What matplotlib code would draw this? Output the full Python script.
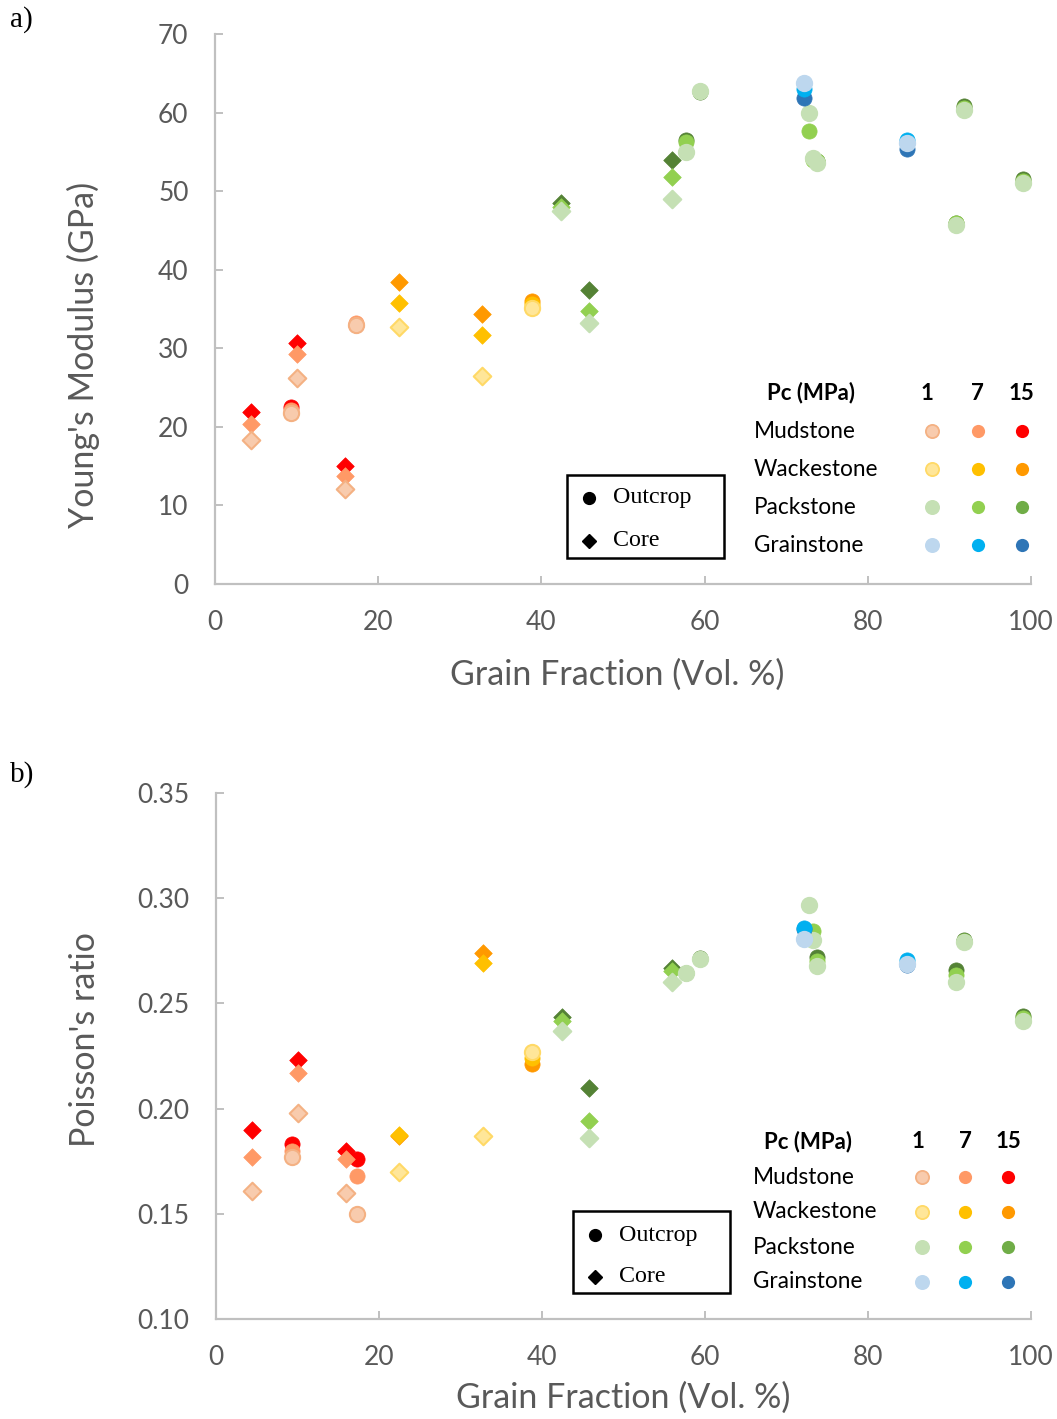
import numpy as np
import matplotlib
matplotlib.use("Agg")
import matplotlib.pyplot as plt
from matplotlib.lines import Line2D
from matplotlib.patches import Rectangle

nan = np.nan

# ---- Mudstone -------------------------------------------------------------
mud_core_x = [4.4, 10.0, 15.9]
mud_core_E1 = [18.3, 26.2, 12.1]
mud_core_E7 = [20.4, 29.3, 13.7]
mud_core_E15 = [21.9, 30.7, 15.0]
mud_core_v1 = [0.161, 0.198, 0.160]
mud_core_v7 = [0.177, 0.217, 0.176]
mud_core_v15 = [0.190, 0.223, 0.180]

mud_out_x = [9.3, 17.3]
mud_out_E1 = [21.8, 33.0]
mud_out_E7 = [22.1, 33.2]
mud_out_E15 = [22.5, 33.0]
mud_out_v1 = [0.177, 0.150]
mud_out_v7 = [0.180, 0.168]
mud_out_v15 = [0.183, 0.176]

# ---- Wackestone -----------------------------------------------------------
wack_core_x = [22.5, 32.7]
wack_core_E1 = [32.7, 26.5]
wack_core_E7 = [35.8, 31.7]
wack_core_E15 = [38.4, 34.4]
wack_core_v1 = [0.170, 0.187]
wack_core_v7 = [0.1875, 0.269]
wack_core_v15 = [0.1868, 0.274]

wack_out_x = [38.8]
wack_out_E1 = [35.1]
wack_out_E7 = [35.6]
wack_out_E15 = [36.0]
wack_out_v1 = [0.227]
wack_out_v7 = [0.224]
wack_out_v15 = [0.221]

# ---- Packstone ------------------------------------------------------------
pack_core_x = [42.4, 45.8, 56.0]
pack_core_E1 = [47.5, 33.2, 49.0]
pack_core_E7 = [48.0, 34.7, 51.8]
pack_core_E15 = [48.5, 37.4, 54.0]
pack_core_v1 = [0.237, 0.186, 0.260]
pack_core_v7 = [0.2416, 0.194, 0.2654]
pack_core_v15 = [0.2435, 0.2096, 0.2668]

pack_out_x = [57.7, 59.4, 72.8, 73.3, 73.8, 90.8, 91.8, 99.0]
pack_out_E1 = [55.0, 62.8, 60.0, 54.2, 53.6, 45.7, 60.3, 51.0]
pack_out_E7 = [56.3, 62.7, 57.7, 54.0, 53.8, 45.9, 60.6, 51.3]
pack_out_E15 = [56.5, 62.6, nan, nan, 53.9, 46.0, 60.8, 51.6]
pack_out_v1 = [0.2644, 0.2710, 0.297, 0.280, 0.268, 0.260, 0.2792, 0.2416]
pack_out_v7 = [0.2645, 0.2712, nan, 0.2845, 0.270, 0.2635, 0.2795, 0.243]
pack_out_v15 = [0.2646, 0.2714, nan, nan, 0.272, 0.2659, 0.2801, 0.244]

# ---- Grainstone -----------------------------------------------------------
grain_out_x = [72.2, 84.8]
grain_out_E1 = [63.8, 56.1]
grain_out_E7 = [63.0, 56.5]
grain_out_E15 = [61.8, 55.4]
grain_out_v1 = [0.2806, 0.2687]
grain_out_v7 = [0.286, 0.2706]
grain_out_v15 = [0.2854, 0.2683]

lithologies = ["Mudstone", "Wackestone", "Packstone", "Grainstone"]
pressures = ["1", "7", "15"]

# face / edge colours per lithology and confining pressure (1, 7, 15 MPa)
face = {
    "Mudstone": ["#F8CBAD", "#FF9966", "#FF0000"],
    "Wackestone": ["#FFE699", "#FFC000", "#FF9900"],
    "Packstone": ["#C5E0B4", "#92D050", "#548235"],
    "Grainstone": ["#BDD7EE", "#00B0F0", "#2E75B6"],
}
edge = {
    "Mudstone": ["#F4B183", "#FF9966", "#FF0000"],
    "Wackestone": ["#FFD966", "#FFC000", "#FF9900"],
    "Packstone": ["#C5E0B4", "#92D050", "#548235"],
    "Grainstone": ["#BDD7EE", "#00B0F0", "#2E75B6"],
}
legend_face = dict(face)
legend_face["Packstone"] = ["#C5E0B4", "#92D050", "#70AD47"]

samples = {
    ("Mudstone", "core"): (mud_core_x, [mud_core_E1, mud_core_E7, mud_core_E15],
                           [mud_core_v1, mud_core_v7, mud_core_v15]),
    ("Mudstone", "outcrop"): (mud_out_x, [mud_out_E1, mud_out_E7, mud_out_E15],
                              [mud_out_v1, mud_out_v7, mud_out_v15]),
    ("Wackestone", "core"): (wack_core_x, [wack_core_E1, wack_core_E7, wack_core_E15],
                             [wack_core_v1, wack_core_v7, wack_core_v15]),
    ("Wackestone", "outcrop"): (wack_out_x, [wack_out_E1, wack_out_E7, wack_out_E15],
                                [wack_out_v1, wack_out_v7, wack_out_v15]),
    ("Packstone", "core"): (pack_core_x, [pack_core_E1, pack_core_E7, pack_core_E15],
                            [pack_core_v1, pack_core_v7, pack_core_v15]),
    ("Packstone", "outcrop"): (pack_out_x, [pack_out_E1, pack_out_E7, pack_out_E15],
                               [pack_out_v1, pack_out_v7, pack_out_v15]),
    ("Grainstone", "outcrop"): (grain_out_x, [grain_out_E1, grain_out_E7, grain_out_E15],
                                [grain_out_v1, grain_out_v7, grain_out_v15]),
}

W, H = 1057, 1419
DPI = 100
fig = plt.figure(figsize=(W / DPI, H / DPI), dpi=DPI)

SANS = "Lato"
SERIF = "Liberation Serif"
GREY = "#595959"
SPINE = "#C0C0C0"


def fx(px):
    return px / W


def fy(py):
    return 1 - py / H


def make_axes(left, right, top, bottom):
    return fig.add_axes([fx(left), fy(bottom), fx(right) - fx(left), fy(top) - fy(bottom)])


def style(ax, xlim, ylim, yticks, yfmt):
    ax.set_xlim(*xlim)
    ax.set_ylim(*ylim)
    ax.set_xticks(np.arange(0, 101, 20))
    ax.set_yticks(yticks)
    ax.set_yticklabels([yfmt.format(t) for t in yticks])
    for s in ("top", "right"):
        ax.spines[s].set_visible(False)
    for s in ("left", "bottom"):
        ax.spines[s].set_color(SPINE)
        ax.spines[s].set_linewidth(1.6)
    ax.tick_params(axis="both", direction="in", length=6, width=1.4, color=SPINE,
                   labelcolor=GREY, labelsize=19)
    ax.tick_params(axis="y", pad=19)
    ax.tick_params(axis="x", pad=19)
    for lab in ax.get_xticklabels() + ax.get_yticklabels():
        lab.set_fontfamily(SANS)


def draw_points(ax, which):
    for lith in lithologies:
        for pi in (2, 1, 0):
            for src in ("core", "outcrop"):
                key = (lith, src)
                if key not in samples:
                    continue
                xs, Es, vs = samples[key]
                ys = Es[pi] if which == "E" else vs[pi]
                if src == "core":
                    ax.scatter(xs, ys, marker="D", s=80, c=face[lith][pi],
                               edgecolors=edge[lith][pi], linewidths=1.5 if pi == 0 else 0.5,
                               zorder=3, clip_on=False)
                else:
                    ax.scatter(xs, ys, marker="o", s=120, c=face[lith][pi],
                               edgecolors=edge[lith][pi], linewidths=1.5 if pi == 0 else 0.5,
                               zorder=3, clip_on=False)


def pc_legend(head_x, head_y, col_x, label_x, row_y, num_x):
    fig.text(fx(head_x), fy(head_y), "Pc (MPa)", family=SANS, fontweight="bold",
             fontsize=16, ha="center", va="center", color="black")
    for p, nx in zip(pressures, num_x):
        fig.text(fx(nx), fy(head_y), p, family=SANS, fontweight="bold",
                 fontsize=16, ha="center", va="center", color="black")
    for lith, ry in zip(lithologies, row_y):
        fig.text(fx(label_x), fy(ry), lith, family=SANS, fontsize=16.3,
                 ha="left", va="center", color="black")
        for pi, cx in enumerate(col_x):
            fig.add_artist(Line2D([fx(cx)], [fy(ry)], marker="o", markersize=9.5,
                                  markerfacecolor=legend_face[lith][pi],
                                  markeredgecolor=edge[lith][pi],
                                  markeredgewidth=1.3 if pi == 0 else 0,
                                  linestyle="none", transform=fig.transFigure))


def source_legend(x0, y0, x1, y1, mx, tx, r1, r2):
    fig.add_artist(Rectangle((fx(x0), fy(y1)), fx(x1) - fx(x0), fy(y0) - fy(y1),
                             transform=fig.transFigure, fill=False,
                             edgecolor="black", linewidth=1.8))
    fig.add_artist(Line2D([fx(mx)], [fy(r1)], marker="o", markersize=8.5,
                          color="black", linestyle="none", transform=fig.transFigure))
    fig.add_artist(Line2D([fx(mx)], [fy(r2)], marker="D", markersize=7,
                          color="black", linestyle="none", transform=fig.transFigure))
    fig.text(fx(tx), fy(r1), "Outcrop", family=SERIF, fontsize=17.3,
             ha="left", va="center", color="black")
    fig.text(fx(tx), fy(r2), "Core", family=SERIF, fontsize=17.3,
             ha="left", va="center", color="black")


# ---- a) Young's modulus ---------------------------------------------------
ax1 = make_axes(215, 1031, 34, 584)
style(ax1, (0, 100), (0, 70), np.arange(0, 71, 10), "{:.0f}")
draw_points(ax1, "E")
fig.text(fx(617), fy(675), "Grain Fraction (Vol. %)", family=SANS, fontsize=24.5,
         ha="center", va="center", color=GREY)
fig.text(fx(83), fy(355), "Young's Modulus (GPa)", family=SANS, fontsize=24.5,
         ha="center", va="center", rotation=90, color=GREY)
fig.text(fx(10), fy(20), "a)", family=SERIF, fontsize=21, ha="left", va="center")
pc_legend(811, 393, [932, 978, 1022], 754, [431, 469, 507, 545], [927, 977, 1021])
source_legend(567, 475, 724, 558, 589, 613, 498, 541)

# ---- b) Poisson's ratio ---------------------------------------------------
ax2 = make_axes(216, 1031, 793, 1319)
style(ax2, (0, 100), (0.10, 0.35), np.arange(0.10, 0.351, 0.05), "{:.2f}")
draw_points(ax2, "v")
fig.text(fx(623), fy(1398), "Grain Fraction (Vol. %)", family=SANS, fontsize=24.5,
         ha="center", va="center", color=GREY)
fig.text(fx(85), fy(1040), "Poisson's ratio", family=SANS, fontsize=24.5,
         ha="center", va="center", rotation=90, color=GREY)
fig.text(fx(10), fy(775), "b)", family=SERIF, fontsize=21, ha="left", va="center")
pc_legend(808, 1142, [922, 965, 1008], 753, [1177, 1212, 1247, 1282], [918, 965, 1008])
source_legend(573, 1211, 730, 1293, 595, 619, 1235, 1277)

fig.savefig("out.png", dpi=DPI, facecolor="white")
